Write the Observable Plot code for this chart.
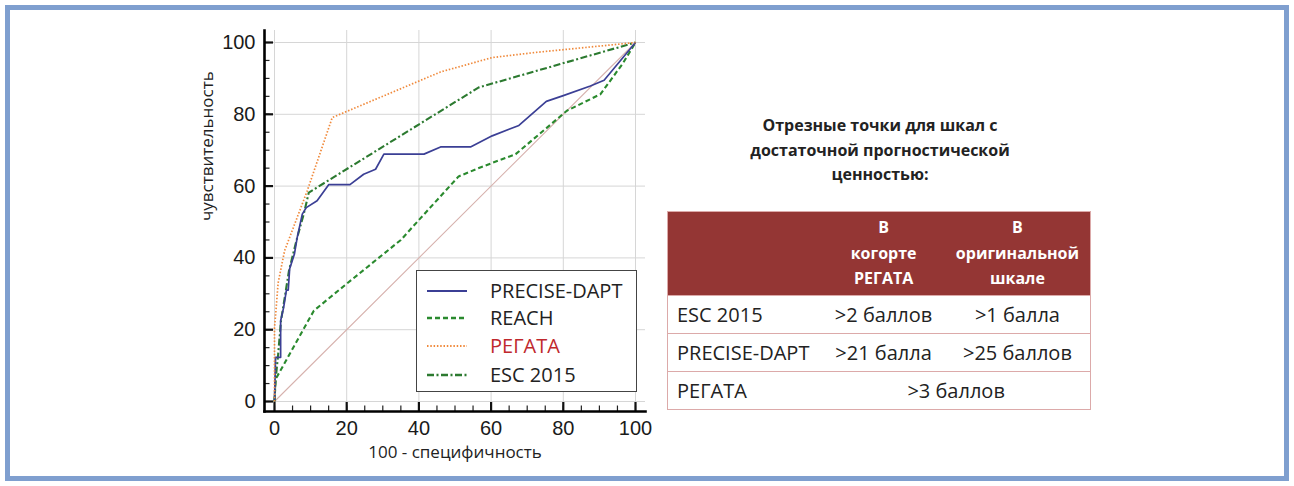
<!DOCTYPE html>
<html>
<head>
<meta charset="utf-8">
<script src="https://cdn.jsdelivr.net/npm/d3@7"></script>
<script src="https://cdn.jsdelivr.net/npm/@observablehq/plot@0.6"></script>
<style>
  html, body { margin:0; padding:0; background:#fff; }
  #root { position:relative; width:1294px; height:486px; overflow:hidden; background:#fff; }
  #border { position:absolute; left:5px; top:5px; width:1284px; height:476px; box-sizing:border-box; border:5px solid #7f9fcf; }
  #chart { position:absolute; left:190px; top:20px; }
  #legend { position:absolute; left:416px; top:270px; width:221px; height:122px; box-sizing:border-box; border:1.5px solid #444; background:#fff; font-family:"Open Sans", sans-serif; font-size:20px; color:#222; }
  .lrow { position:absolute; left:0; height:28px; width:100%; }
  .lrow svg { position:absolute; left:9px; top:0; }
  .lrow span { position:absolute; left:73px; top:0; line-height:28px; white-space:nowrap; }
  #title { position:absolute; left:720px; top:113px; width:320px; text-align:center; font-family:"Open Sans", sans-serif; font-weight:700; font-size:16px; line-height:24.7px; color:#222; }
  #tbl { position:absolute; left:667px; top:211px; width:424px; border-collapse:collapse; font-family:"Open Sans", sans-serif; color:#222; border:1.5px solid #dcaaa9; }
  #tbl th { background:#943634; color:#fff; font-weight:700; font-size:16px; line-height:25.5px; height:83px; padding:0; text-align:center; vertical-align:middle; }
  #tbl td { font-size:20px; height:37px; padding:0; text-align:center; border-top:1.5px solid #dcaaa9; white-space:nowrap; }
  #tbl td.first { text-align:left; padding-left:9px; }
</style>
</head>
<body>
<div id="root">
  <div id="border"></div>
  <div id="chart"></div>
  <div id="legend"></div>
  <div id="title">Отрезные точки для шкал с<br>достаточной прогностической<br>ценностью:</div>
  <table id="tbl"></table>
</div>
<script>
// ---- data ----
const seriesNames = ["PRECISE-DAPT", "REACH", "РЕГАТА", "ESC 2015"];

const preciseX = [0, 0.3, 1.7, 1.7, 2.5, 3.3, 3.8, 4.2, 5.5, 6.3, 7.7, 8.8, 11.8, 15, 20.9, 24.7, 28, 30.3, 41.4, 46, 54.3, 60.3, 67.7, 75.3, 80, 87.5, 91.3, 100];
const preciseY = [0, 12.3, 12.3, 22.5, 26, 31, 31, 37, 41, 45.7, 52.2, 54, 55.9, 60.4, 60.4, 63.3, 64.7, 68.9, 68.9, 70.9, 70.9, 74, 76.9, 83.6, 85.2, 87.9, 89.5, 100];

const reachX = [0, 0.3, 10.9, 20, 35, 40.4, 51, 57, 66.8, 75.5, 81, 90.3, 96.5, 100];
const reachY = [0, 6.2, 25.3, 32.8, 45, 51, 62.7, 65.2, 68.9, 76.3, 81, 85.6, 94.2, 100];

const regataX = [0, 0, 0.3, 1, 2.8, 9, 16, 46, 60.3, 72, 100];
const regataY = [0, 20.6, 24, 33, 42, 58.5, 79.1, 91.8, 95.8, 97.2, 100];

const escX = [0, 0.3, 1, 1.8, 3, 4, 6.3, 8.1, 9.5, 56.6, 100];
const escY = [0, 6, 13, 22.5, 30, 36.4, 45.7, 52.2, 58.2, 87.5, 100];

const diagX = [0, 100];
const diagY = [0, 100];

const majorTicks = [0, 20, 40, 60, 80, 100];
const minorTicks = d3.range(0, 101, 5);

const xLabel = "100 - специфичность";
const yLabel = "чувствительность";

const tableHeader = ["", "В\nкогорте\nРЕГАТА", "В\nоригинальной\nшкале"];
const tableRowNames = ["ESC 2015", "PRECISE-DAPT", "РЕГАТА"];
const tableCol1 = [">2 баллов", ">21 балла", ">3 баллов"];
const tableCol2 = [">1 балла", ">25 баллов", null];

// ---- styles ----
const styles = {
  "PRECISE-DAPT": {stroke:"#3b3f95", strokeWidth:1.7, dash:null},
  "REACH": {stroke:"#2a8a2e", strokeWidth:2.1, dash:"5,3"},
  "РЕГАТА": {stroke:"#f08a3c", strokeWidth:1.7, dash:"1.5,1.8"},
  "ESC 2015": {stroke:"#2c7a30", strokeWidth:2.1, dash:"7,2.5,2,2.5"}
};
const seriesData = {
  "PRECISE-DAPT": preciseX.map((x,i)=>({x, y: preciseY[i]})),
  "REACH": reachX.map((x,i)=>({x, y: reachY[i]})),
  "РЕГАТА": regataX.map((x,i)=>({x, y: regataY[i]})),
  "ESC 2015": escX.map((x,i)=>({x, y: escY[i]}))
};
const diag = diagX.map((x,i)=>({x, y: diagY[i]}));

const drawOrder = ["REACH", "ESC 2015", "PRECISE-DAPT", "РЕГАТА"];

const chart = Plot.plot({
  width: 460,
  height: 450,
  marginLeft: 74,
  marginRight: 5,
  marginTop: 10,
  marginBottom: 59,
  x: {domain:[0,100], insetLeft:10, insetRight:10},
  y: {domain:[0,100], insetTop:12, insetBottom:10},
  style: {fontFamily:"'Liberation Sans', Arial, sans-serif", fontSize:"20px", color:"#222", background:"transparent", overflow:"visible"},
  marks: [
    Plot.gridX(majorTicks, {stroke:"#d6d6d6", strokeOpacity:1, strokeWidth:1}),
    Plot.gridY(majorTicks, {stroke:"#d6d6d6", strokeOpacity:1, strokeWidth:1}),
    Plot.line(diag, {x:"x", y:"y", stroke:"#d7b2ae", strokeWidth:1.1}),
    ...drawOrder.map(name => Plot.line(seriesData[name], {
      x:"x", y:"y", stroke: styles[name].stroke, strokeWidth: styles[name].strokeWidth,
      strokeDasharray: styles[name].dash, strokeLinecap:"butt", curve:"linear"
    })),
    Plot.axisY(minorTicks, {anchor:"left", tickSize:-5.5, tickFormat:()=>"", label:null, stroke:"#222", strokeWidth:1.2}),
    Plot.axisX(minorTicks, {anchor:"bottom", tickSize:-5.5, tickFormat:()=>"", label:null, stroke:"#222", strokeWidth:1.2}),
    Plot.axisY(majorTicks, {anchor:"left", tickSize:-9, tickPadding:18, label:null, stroke:"#111", strokeWidth:2.2, fill:"#1a1a1a"}),
    Plot.axisX(majorTicks, {anchor:"bottom", tickSize:-9, tickPadding:18, label:null, stroke:"#111", strokeWidth:2.2, fill:"#1a1a1a"}),
    Plot.frame({anchor:"left", stroke:"#000", strokeWidth:2.6}),
    Plot.frame({anchor:"bottom", stroke:"#000", strokeWidth:2.6}),
    Plot.text([xLabel], {text:d=>d, frameAnchor:"bottom", dy:46, fontFamily:"'Open Sans', sans-serif", fontSize:17, fill:"#222"}),
    Plot.text([yLabel], {text:d=>d, frameAnchor:"left", rotate:-90, dx:-57, fontFamily:"'Open Sans', sans-serif", fontSize:17, fill:"#222"})
  ]
});
document.getElementById("chart").appendChild(chart);

// ---- legend ----
const legend = document.getElementById("legend");
const legendTops = [5.5, 33, 61, 89.5];
seriesNames.forEach((name, i) => {
  const row = document.createElement("div");
  row.className = "lrow";
  row.style.top = legendTops[i] + "px";
  const s = styles[name];
  row.innerHTML = `<svg width="42" height="28"><line x1="1" x2="41" y1="14" y2="14" stroke="${s.stroke}" stroke-width="${s.strokeWidth + 0.4}" ${s.dash ? `stroke-dasharray="${s.dash}"` : ""}/></svg><span style="color:${name === "РЕГАТА" ? "#c0282d" : "#222"}">${name}</span>`;
  legend.appendChild(row);
});

// ---- table ----
const tbl = document.getElementById("tbl");
const colW = [155, 123, 146];
let html = "<colgroup>" + colW.map(w => `<col style="width:${w}px">`).join("") + "</colgroup>";
html += "<tr>" + tableHeader.map(h => `<th>${h.split("\n").join("<br>")}</th>`).join("") + "</tr>";
tableRowNames.forEach((r, i) => {
  const esc = s => s.replace(/>/g, "&gt;");
  if (tableCol2[i] === null) {
    html += `<tr><td class="first">${r}</td><td colspan="2">${esc(tableCol1[i])}</td></tr>`;
  } else {
    html += `<tr><td class="first">${r}</td><td>${esc(tableCol1[i])}</td><td>${esc(tableCol2[i])}</td></tr>`;
  }
});
tbl.innerHTML = html;
</script>
</body>
</html>
